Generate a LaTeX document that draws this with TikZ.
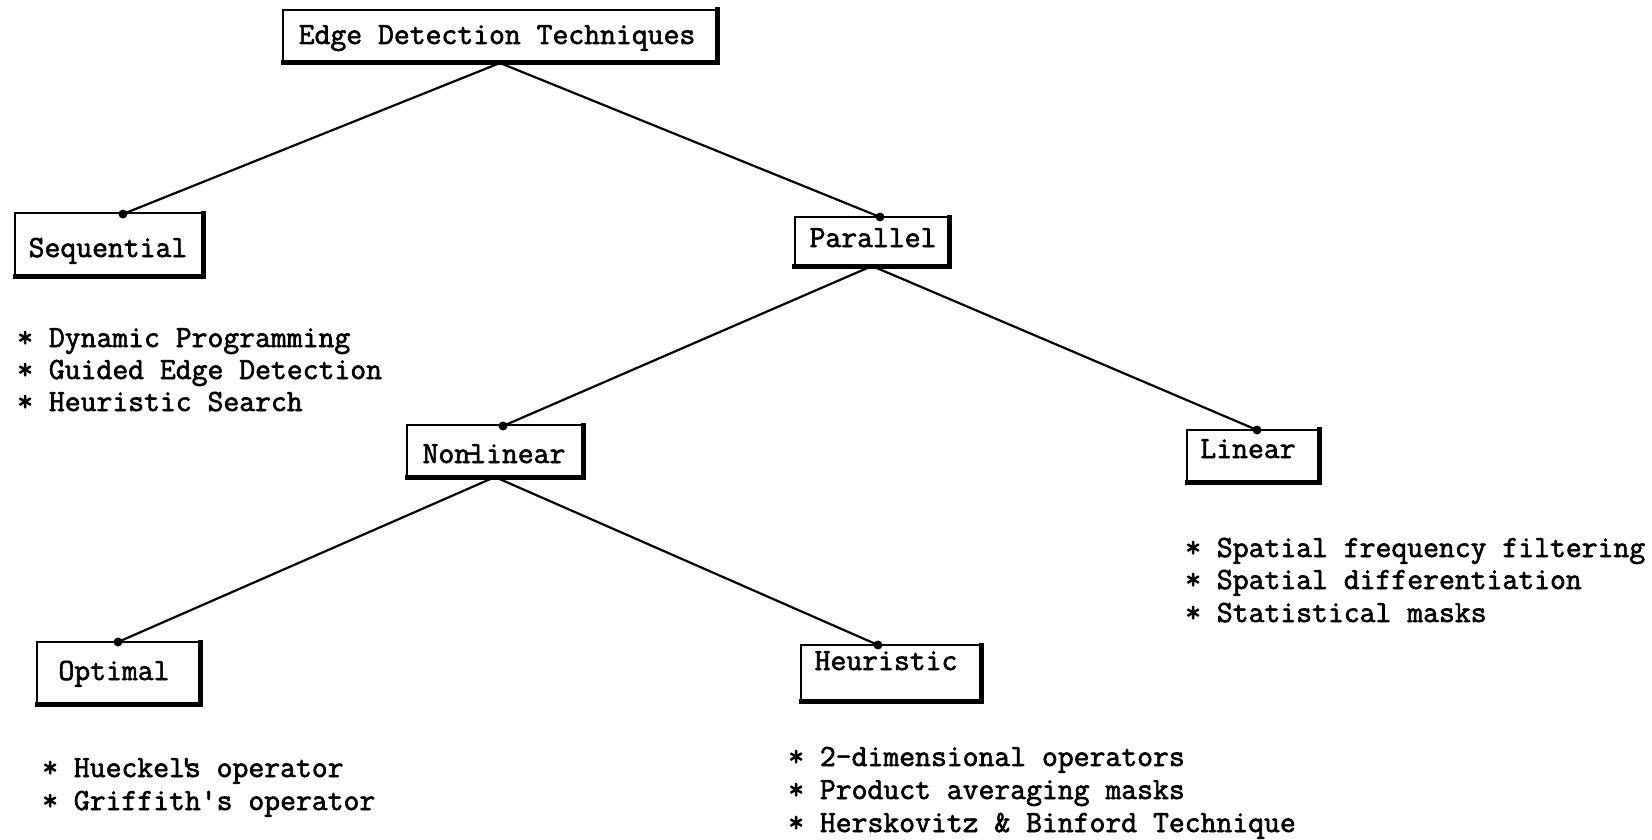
\documentclass[tikz,border=0pt]{standalone}
\usepackage{fontspec}
\newfontfamily\tw[FakeBold=2]{Latin Modern Mono}
\begin{document}
\begin{tikzpicture}[x=1pt,y=-1pt,
  box/.style={draw, line width=2pt, inner sep=0pt, outer sep=0pt},
  lbl/.style={inner sep=0pt, font=\tw\fontsize{30.8}{31}\selectfont},
  item/.style={lbl, anchor=base west},
  conn/.style={line width=2.2pt, line cap=round},
  dot/.style={fill=black}]
\useasboundingbox[fill=white] (0,0) rectangle (1652,840);

% boxes
\node[box, minimum width=434pt, minimum height=53pt] (root)   at (500,36.5) {};
\node[box, minimum width=188pt, minimum height=63pt] (seq)    at (109,244.5) {};
\node[box, minimum width=155pt, minimum height=49pt] (par)    at (872,241.5) {};
\node[box, minimum width=176pt, minimum height=52pt] (nonlin) at (495,451) {};
\node[box, minimum width=132pt, minimum height=53pt] (lin)    at (1253,456) {};
\node[box, minimum width=163pt, minimum height=62pt] (opt)    at (118.5,673) {};
\node[box, minimum width=180pt, minimum height=56pt] (heur)   at (891,673) {};

% heavy right and bottom edges
\foreach \n in {root,seq,par,nonlin,lin,opt,heur}
  \draw[line width=5pt, line cap=rect] (\n.north east) -- (\n.south east) -- (\n.south west);

% box titles
\node[lbl, anchor=base] (roottxt)   at (497,44)   {Edge Detection Techniques};
\node[lbl, anchor=base] (seqtxt)    at (108,257)  {Sequential};
\node[lbl, anchor=base] (partxt)    at (873,247)  {Parallel};
\node[lbl, anchor=base] (nonlintxt) at (494,463)  {Non\rlap{\kern-0.2em -}linear};
\node[lbl, anchor=base] (lintxt)    at (1248,458) {Linear};
\node[lbl, anchor=base] (opttxt)    at (114,680)  {Optimal};
\node[lbl, anchor=base] (heurtxt)   at (886,670)  {Heuristic};

% connector end points
\coordinate (seqdot)    at (123,214);
\coordinate (pardot)    at (880,217);
\coordinate (nonlindot) at (503,426);
\coordinate (lindot)    at (1257,430);
\coordinate (optdot)    at (118,642);
\coordinate (heurdot)   at (878,645);

\draw[conn] (root.south) -- (seqdot);
\draw[conn] (root.south) -- (pardot);
\draw[conn] (par.south) -- (nonlindot);
\draw[conn] (par.south) -- (lindot);
\draw[conn] (nonlin.south) -- (optdot);
\draw[conn] (nonlin.south) -- (heurdot);
\foreach \c in {seqdot,pardot,nonlindot,lindot,optdot,heurdot}
  \fill[dot] (\c) circle (4.5);

% item lists
\node[item] (seq1) at (17,347) {* Dynamic Programming};
\node[item] (seq2) at (17,379) {* Guided Edge Detection};
\node[item] (seq3) at (17,411) {* Heuristic Search};

\node[item] (lin1) at (1185,557) {* Spatial frequency filtering};
\node[item] (lin2) at (1185,589) {* Spatial differentiation};
\node[item] (lin3) at (1185,622) {* Statistical masks};

\node[item] (opt1) at (42,777) {* Hueckel\llap{'\kern-0.3em}s operator};
\node[item] (opt2) at (42,810) {* Griffith's operator};

\node[item] (heur1) at (788,766) {* 2-dimensional operators};
\node[item] (heur2) at (788,799) {* Product averaging masks};
\node[item] (heur3) at (788,832) {* Herskovitz \& Binford Technique};
\end{tikzpicture}
\end{document}
